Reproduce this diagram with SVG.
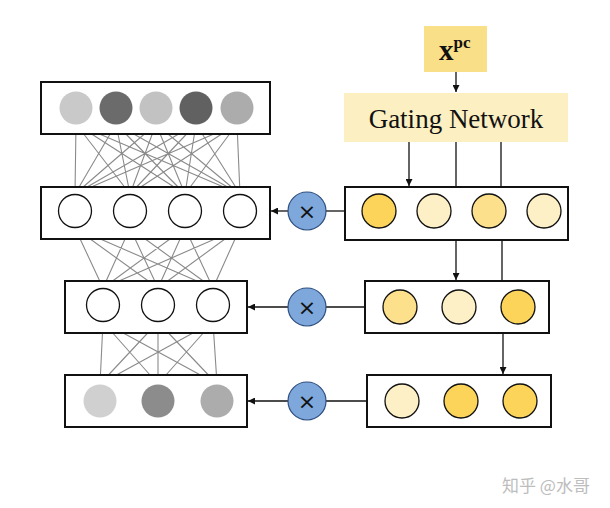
<svg xmlns="http://www.w3.org/2000/svg" width="610" height="508" viewBox="0 0 610 508">
<defs>
<marker id="ah" viewBox="0 0 10 10" refX="10" refY="5" markerWidth="7" markerHeight="7" markerUnits="userSpaceOnUse" orient="auto"><path d="M0,0 L10,5 L0,10 z" fill="#111"/></marker>
<style>
.box{fill:#fff;stroke:#111;stroke-width:2}
.n{stroke:#111;stroke-width:1.3}
.e{stroke:#8a8a8a;stroke-width:1.1;fill:none}
.c{stroke:#111;stroke-width:1.3;fill:none}
.a{stroke:#111;stroke-width:1.3;fill:none;marker-end:url(#ah)}
.mul{fill:#7ea7db;stroke:#2f4f80;stroke-width:1.2}
.x{font-family:"DejaVu Sans",sans-serif;font-size:22px;fill:#111;text-anchor:middle}
.g{fill:#fcd45a}
.l{fill:#fdefc6}
.m{fill:#fde08c}
</style>
</defs>
<rect width="610" height="508" fill="#fff"/>
<g id="edges">
<g class="e">
<path d="M76,124L75,194M76,124L130,194M76,124L185,194M76,124L240,194
M116,124L75,194M116,124L130,194M116,124L185,194M116,124L240,194
M156,124L75,194M156,124L130,194M156,124L185,194M156,124L240,194
M196,124L75,194M196,124L130,194M196,124L185,194M196,124L240,194
M237,124L75,194M237,124L130,194M237,124L185,194M237,124L240,194"/>
<path d="M75,228L103,288M75,228L158,288M75,228L213,288
M130,228L103,288M130,228L158,288M130,228L213,288
M185,228L103,288M185,228L158,288M185,228L213,288
M240,228L103,288M240,228L158,288M240,228L213,288"/>
<path d="M103,322L100,384M103,322L158,384M103,322L217,384
M158,322L100,384M158,322L158,384M158,322L217,384
M213,322L100,384M213,322L158,384M213,322L217,384"/>
</g>
</g>
<g id="connectors">
<path class="a" d="M456,72V92"/>
<path class="a" d="M409,142V186"/>
<path class="c" d="M456,142V187"/>
<path class="c" d="M501,142V187"/>
<path class="a" d="M456,240V280"/>
<path class="c" d="M502,240V281"/>
<path class="a" d="M503,333V374"/>
<path class="c" d="M345,211H326"/>
<path class="a" d="M288,211H271"/>
<path class="c" d="M365,307H326"/>
<path class="a" d="M288,307H248"/>
<path class="c" d="M367,401H326"/>
<path class="a" d="M288,401H248"/>
</g>
<g id="input-layer">
<rect class="box" x="41" y="82" width="229" height="52"/>
<circle cx="76" cy="108" r="16.5" fill="#c9c9c9"/>
<circle cx="116" cy="108" r="16.5" fill="#6b6b6b"/>
<circle cx="156" cy="108" r="16.5" fill="#c2c2c2"/>
<circle cx="196" cy="108" r="16.5" fill="#616161"/>
<circle cx="237" cy="108" r="16.5" fill="#acacac"/>
</g>
<g id="hidden-layer-1">
<rect class="box" x="41" y="187" width="229" height="52"/>
<circle class="n" cx="75" cy="211" r="16.5" fill="#fff"/>
<circle class="n" cx="130" cy="211" r="16.5" fill="#fff"/>
<circle class="n" cx="185" cy="211" r="16.5" fill="#fff"/>
<circle class="n" cx="240" cy="211" r="16.5" fill="#fff"/>
</g>
<g id="hidden-layer-2">
<rect class="box" x="65" y="281" width="182" height="52"/>
<circle class="n" cx="103" cy="305" r="16.5" fill="#fff"/>
<circle class="n" cx="158" cy="305" r="16.5" fill="#fff"/>
<circle class="n" cx="213" cy="305" r="16.5" fill="#fff"/>
</g>
<g id="output-layer">
<rect class="box" x="65" y="375" width="182" height="52"/>
<circle cx="100" cy="401" r="16.5" fill="#d0d0d0"/>
<circle cx="158" cy="401" r="16.5" fill="#8c8c8c"/>
<circle cx="217" cy="401" r="16.5" fill="#acacac"/>
</g>
<g id="mul-1"><circle class="mul" cx="307" cy="211" r="19"/><text class="x" x="307" y="219">×</text></g>
<g id="mul-2"><circle class="mul" cx="307" cy="307" r="19"/><text class="x" x="307" y="315">×</text></g>
<g id="mul-3"><circle class="mul" cx="307" cy="401" r="19"/><text class="x" x="307" y="409">×</text></g>
<g id="xpc">
<rect x="424" y="26" width="63" height="46" fill="#f9df87"/>
<text x="439" y="60" font-family="'Liberation Serif',serif" font-weight="bold" font-size="29" fill="#111">x<tspan font-size="17" dy="-12">pc</tspan></text>
</g>
<g id="gating-network">
<rect x="344" y="93" width="224" height="49" fill="#fcefc2"/>
<text x="456" y="128" font-family="'Liberation Serif',serif" font-size="27" fill="#111" text-anchor="middle">Gating Network</text>
</g>
<g id="gate-1">
<rect class="box" x="345" y="187" width="223" height="53"/>
<circle class="n g" cx="379" cy="211" r="17"/>
<circle class="n l" cx="434" cy="211" r="17"/>
<circle class="n m" cx="489" cy="211" r="17"/>
<circle class="n l" cx="544" cy="211" r="17"/>
</g>
<g id="gate-2">
<rect class="box" x="365" y="281" width="184" height="52"/>
<circle class="n m" cx="400" cy="307" r="17"/>
<circle class="n l" cx="459" cy="307" r="17"/>
<circle class="n g" cx="518" cy="307" r="17"/>
</g>
<g id="gate-3">
<rect class="box" x="367" y="375" width="184" height="52"/>
<circle class="n l" cx="402" cy="401" r="17"/>
<circle class="n g" cx="461" cy="401" r="17"/>
<circle class="n g" cx="520" cy="401" r="17"/>
</g>
<text x="546" y="492" font-family="'Noto Sans CJK SC',sans-serif" font-size="17" fill="#bdbdbd" text-anchor="middle">知乎 @水哥</text>
</svg>
